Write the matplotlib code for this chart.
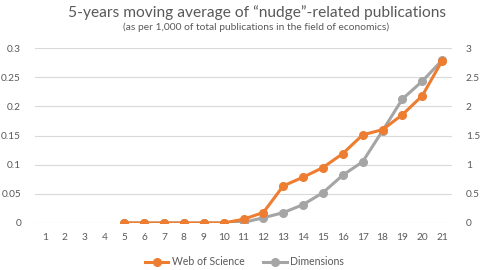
import numpy as np
import matplotlib.pyplot as plt

plt.rcParams['font.family'] = ['Lato', 'DejaVu Sans']

# Data
years = list(range(1, 22))
wos = [None] * 4 + [0, 0, 0, 0, 0, 0, 0.0064, 0.018, 0.0636, 0.0785, 0.095,
                    0.119, 0.151, 0.160, 0.1856, 0.218, 0.278]
dims = [None] * 4 + [0, 0, 0, 0, 0, 0, 0.01, 0.09, 0.177, 0.315, 0.52,
                     0.82, 1.05, 1.58, 2.125, 2.43, 2.79]

wos = np.array([np.nan if v is None else v for v in wos])
dims = np.array([np.nan if v is None else v for v in dims])

orange = '#ED7D31'
grey = '#A5A5A5'
txt = '#595959'

fig = plt.figure(figsize=(4.82, 2.7), dpi=100)
ax = fig.add_axes([35 / 482, 47 / 270, 417 / 482, 175 / 270])
ax2 = ax.twinx()

ax.plot(years, wos, color=orange, lw=2.2, marker='o', ms=5.5, zorder=3,
        label='Web of Science')
ax2.plot(years, dims, color=grey, lw=2.2, marker='o', ms=5.5,
         label='Dimensions')
ax.set_zorder(ax2.get_zorder() + 1)
ax.patch.set_visible(False)

ax.set_xlim(0.5, 21.5)
ax.set_ylim(0, 0.3)
ax2.set_ylim(0, 3)
ax.set_xticks(years)
ax.set_yticks([0, 0.05, 0.1, 0.15, 0.2, 0.25, 0.3])
ax.set_yticklabels(['0', '0.05', '0.1', '0.15', '0.2', '0.25', '0.3'])
ax2.set_yticks([0, 0.5, 1, 1.5, 2, 2.5, 3])
ax2.set_yticklabels(['0', '0.5', '1', '1.5', '2', '2.5', '3'])

ax2.grid(axis='y', color='#D9D9D9', lw=0.8)
ax2.set_axisbelow(True)
for a in (ax, ax2):
    for s in a.spines.values():
        s.set_visible(False)
    a.tick_params(length=0, labelsize=7.3, labelcolor=txt)
ax.tick_params(axis='x', pad=7)
ax.tick_params(axis='y', pad=10)
ax2.tick_params(axis='y', pad=10)

fig.text(0.533, 0.955, '5-years moving average of \u201cnudge\u201d-related publications',
         ha='center', va='center', fontsize=11.2, color=txt)
fig.text(0.532, 0.898, '(as per 1,000 of total publications in the field of economics)',
         ha='center', va='center', fontsize=7.4, color=txt)

h1, l1 = ax.get_legend_handles_labels()
h2, l2 = ax2.get_legend_handles_labels()
fig.legend(h1 + h2, l1 + l2, loc='center', bbox_to_anchor=(0.507, 0.03),
           ncol=2, frameon=False, fontsize=7.6, labelcolor=txt,
           handlelength=2.2, handletextpad=0.3, columnspacing=1.8)

fig.savefig('out.png', dpi=100)
